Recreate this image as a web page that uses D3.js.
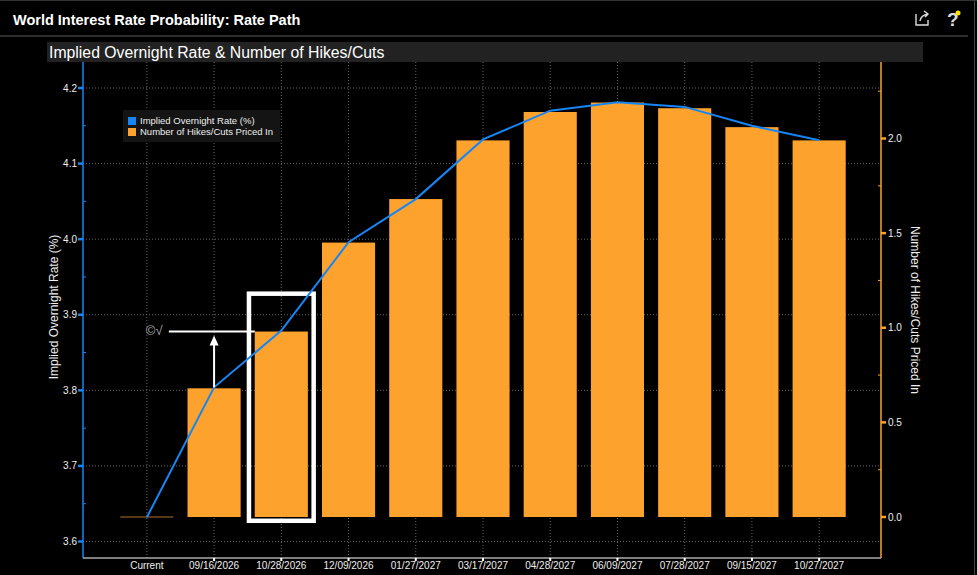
<!DOCTYPE html>
<html>
<head>
<meta charset="utf-8">
<script src="https://cdn.jsdelivr.net/npm/d3@7"></script>
<style>
  body { margin: 0; background: #000; }
  svg { display: block; font-family: "Liberation Sans", Arial, sans-serif; }
</style>
</head>
<body>
<svg id="chart" width="977" height="575"></svg>
<script>
// data
var categories = ["Current", "09/16/2026", "10/28/2026", "12/09/2026", "01/27/2027", "03/17/2027",
                  "04/28/2027", "06/09/2027", "07/28/2027", "09/15/2027", "10/27/2027"];
var impliedRate = [3.632, 3.804, 3.879, 3.996, 4.053, 4.132, 4.170, 4.181, 4.175, 4.150, 4.131];
var hikesCuts = [0.0, 0.68, 0.98, 1.45, 1.68, 1.99, 2.14, 2.19, 2.16, 2.06, 1.99];
var leftTicks = [3.6, 3.7, 3.8, 3.9, 4.0, 4.1, 4.2];
var rightTicks = [0.0, 0.5, 1.0, 1.5, 2.0];

var W = 977, H = 575;
var plot = {left: 83, right: 881, top: 62, bottom: 558};
var blue = "#1686f6", orange = "#fda22c";

var svg = d3.select("#chart");

svg.append("rect").attr("width", W).attr("height", H).attr("fill", "#000");

// header
svg.append("line").attr("x1", 0).attr("x2", W).attr("y1", 0.5).attr("y2", 0.5).style("stroke", "#333");
svg.append("line").attr("x1", 0).attr("x2", 968).attr("y1", 36).attr("y2", 36).style("stroke", "#2e2e2e").style("stroke-width", 2);
svg.append("line").attr("x1", 974.5).attr("x2", 974.5).attr("y1", 0).attr("y2", H).style("stroke", "#444");
svg.append("text")
  .text("World Interest Rate Probability: Rate Path")
  .attr("x", 13).attr("y", 25)
  .attr("fill", "#fff").style("font-size", "14.5px").style("font-weight", "bold");

// share + help icons
svg.append("path")
  .attr("d", "M916,14 v11 h12 v-5 M920,21 q1,-6 8,-7 M924,11 l4,3 l-3,3")
  .attr("fill", "none").style("stroke", "#ddd").style("stroke-width", 1.4);
svg.append("text").text("?").attr("x", 947).attr("y", 26)
  .attr("fill", "#ddd").style("font-size", "19px").style("font-weight", "bold");
svg.append("circle").attr("cx", 958).attr("cy", 13).attr("r", 2.5).attr("fill", "#ffe400");

// subtitle bar
svg.append("rect").attr("x", 47).attr("y", 42).attr("width", 876).attr("height", 20).attr("fill", "#222");
svg.append("text")
  .text("Implied Overnight Rate & Number of Hikes/Cuts")
  .attr("x", 49).attr("y", 58)
  .attr("fill", "#fff").style("font-size", "15.8px");

// scales
var x = d3.scalePoint().domain(categories).range([plot.left + 2, plot.right]).padding(0.92);
var yL = d3.scaleLinear().domain([3.6, 4.2]).range([541.5, 88]);
var yR = d3.scaleLinear().domain([0, 2]).range([517, 138.5]);
var barW = x.step() * 0.79;

// grid
var grid = svg.append("g");
grid.selectAll("line.v")
  .data(categories)
  .enter()
  .append("line")
  .attr("class", "v")
  .attr("x1", function(d) { return x(d); })
  .attr("x2", function(d) { return x(d); })
  .attr("y1", plot.top).attr("y2", plot.bottom)
  .style("stroke", "#666").style("stroke-dasharray", "1,2");
grid.selectAll("line.h")
  .data(leftTicks)
  .enter()
  .append("line")
  .attr("class", "h")
  .attr("x1", plot.left).attr("x2", plot.right)
  .attr("y1", function(d) { return yL(d); })
  .attr("y2", function(d) { return yL(d); })
  .style("stroke", "#666").style("stroke-dasharray", "1,2");

// bars
var bars = svg.append("g");
bars.selectAll("rect")
  .data(categories)
  .enter()
  .append("rect")
  .attr("x", function(d) { return x(d) - barW / 2; })
  .attr("width", barW)
  .attr("y", function(d, i) { return yR(hikesCuts[i]); })
  .attr("height", function(d, i) { return yR(0) - yR(hikesCuts[i]); })
  .attr("fill", orange);
// zero bar shows as a thin line
bars.selectAll("line")
  .data(categories.filter(function(d, i) { return hikesCuts[i] === 0; }))
  .enter()
  .append("line")
  .attr("x1", function(d) { return x(d) - barW / 2; })
  .attr("x2", function(d) { return x(d) + barW / 2; })
  .attr("y1", yR(0)).attr("y2", yR(0))
  .style("stroke", "#b06f28").style("stroke-width", 1.2);

// annotation box around 10/28/2026
var boxCat = categories[2];
svg.append("rect")
  .attr("x", x(boxCat) - barW / 2 - 5.8)
  .attr("y", yR(1.18))
  .attr("width", barW + 11.6)
  .attr("height", yR(-0.02) - yR(1.18))
  .attr("fill", "none")
  .style("stroke", "#fff").style("stroke-width", 4.5);

// rate line
var line = d3.line()
  .x(function(d, i) { return x(categories[i]); })
  .y(function(d) { return yL(d); });
svg.append("path")
  .datum(impliedRate)
  .attr("d", line)
  .attr("fill", "none")
  .style("stroke", blue).style("stroke-width", 2);

// annotation marks: arrow + horizontal marker
var ax = x(categories[1]);
var markY = yL(3.878);
svg.append("line")
  .attr("x1", x(categories[0]) + 22).attr("x2", x(boxCat) - barW / 2)
  .attr("y1", markY).attr("y2", markY)
  .style("stroke", "#fff").style("stroke-width", 2);
svg.append("line")
  .attr("x1", ax).attr("x2", ax)
  .attr("y1", yL(impliedRate[1])).attr("y2", markY + 12)
  .style("stroke", "#fff").style("stroke-width", 2);
svg.append("path")
  .attr("d", "M" + (ax - 4.5) + "," + (markY + 14) + " L" + ax + "," + (markY + 4) + " L" + (ax + 4.5) + "," + (markY + 14) + " Z")
  .attr("fill", "#fff");
svg.append("text").text("©√")
  .attr("x", x(categories[0]) - 1).attr("y", markY + 4)
  .attr("fill", "#aaa").style("font-size", "13px");

// left axis
var la = svg.append("g");
la.append("line").attr("x1", plot.left).attr("x2", plot.left).attr("y1", plot.top).attr("y2", plot.bottom)
  .style("stroke", blue).style("stroke-width", 1.5);
la.selectAll("line.tick")
  .data(d3.range(3.6, 4.2001, 0.05))
  .enter()
  .append("line")
  .attr("class", "tick")
  .attr("x1", function(d, i) { return i % 2 ? plot.left : plot.left - 5; })
  .attr("x2", function(d, i) { return i % 2 ? plot.left + 3 : plot.left; })
  .attr("y1", function(d) { return yL(d); })
  .attr("y2", function(d) { return yL(d); })
  .style("stroke", blue).style("stroke-width", function(d, i) { return i % 2 ? 1 : 2.5; });
la.selectAll("text")
  .data(leftTicks)
  .enter()
  .append("text")
  .text(function(d) { return d.toFixed(1); })
  .attr("x", plot.left - 6)
  .attr("y", function(d) { return yL(d); })
  .attr("dy", "0.35em")
  .attr("text-anchor", "end")
  .attr("fill", "#eee").style("font-size", "10px");
svg.append("text")
  .text("Implied Overnight Rate (%)")
  .attr("transform", "translate(58," + 307 + ") rotate(-90)")
  .attr("text-anchor", "middle")
  .attr("fill", "#eee").style("font-size", "12px");

// right axis
var ra = svg.append("g");
ra.append("line").attr("x1", plot.right).attr("x2", plot.right).attr("y1", plot.top).attr("y2", plot.bottom)
  .style("stroke", orange).style("stroke-width", 1.5);
ra.selectAll("line.tick")
  .data(d3.range(0, 2.4001, 0.25))
  .enter()
  .append("line")
  .attr("class", "tick")
  .attr("x1", function(d, i) { return i % 2 ? plot.right - 3 : plot.right; })
  .attr("x2", function(d, i) { return i % 2 ? plot.right : plot.right + 5; })
  .attr("y1", function(d) { return yR(d); })
  .attr("y2", function(d) { return yR(d); })
  .style("stroke", orange).style("stroke-width", function(d, i) { return i % 2 ? 1 : 2.5; });
ra.selectAll("text")
  .data(rightTicks)
  .enter()
  .append("text")
  .text(function(d) { return d.toFixed(1); })
  .attr("x", plot.right + 7)
  .attr("y", function(d) { return yR(d); })
  .attr("dy", "0.35em")
  .attr("fill", "#eee").style("font-size", "10px");
svg.append("text")
  .text("Number of Hikes/Cuts Priced In")
  .attr("transform", "translate(911," + 310 + ") rotate(90)")
  .attr("text-anchor", "middle")
  .attr("fill", "#eee").style("font-size", "12px");

// bottom axis
var ba = svg.append("g");
ba.append("line").attr("x1", plot.left).attr("x2", plot.right).attr("y1", plot.bottom).attr("y2", plot.bottom)
  .style("stroke", "#aaa").style("stroke-width", 1.5);
ba.selectAll("line")
  .data(categories)
  .enter()
  .append("line")
  .attr("x1", function(d) { return x(d); })
  .attr("x2", function(d) { return x(d); })
  .attr("y1", plot.bottom).attr("y2", plot.bottom + 3)
  .style("stroke", "#fff").style("stroke-width", 2);
ba.selectAll("text")
  .data(categories)
  .enter()
  .append("text")
  .text(function(d) { return d; })
  .attr("x", function(d) { return x(d); })
  .attr("y", plot.bottom + 7)
  .attr("dy", "0.35em")
  .attr("text-anchor", "middle")
  .attr("fill", "#eee").style("font-size", "10px");

// legend
var lg = svg.append("g").attr("transform", "translate(123,110)");
lg.append("rect").attr("width", 157).attr("height", 32).attr("fill", "#141414");
var legendItems = [{label: "Implied Overnight Rate (%)", color: blue},
                   {label: "Number of Hikes/Cuts Priced In", color: orange}];
lg.selectAll("rect.sw")
  .data(legendItems)
  .enter()
  .append("rect")
  .attr("class", "sw")
  .attr("x", 5).attr("y", function(d, i) { return 7 + i * 11; })
  .attr("width", 8).attr("height", 8)
  .attr("fill", function(d) { return d.color; });
lg.selectAll("text")
  .data(legendItems)
  .enter()
  .append("text")
  .text(function(d) { return d.label; })
  .attr("x", 17).attr("y", function(d, i) { return 11 + i * 11; })
  .attr("dy", "0.35em")
  .attr("fill", "#eee").style("font-size", "9.5px");
</script>
</body>
</html>
